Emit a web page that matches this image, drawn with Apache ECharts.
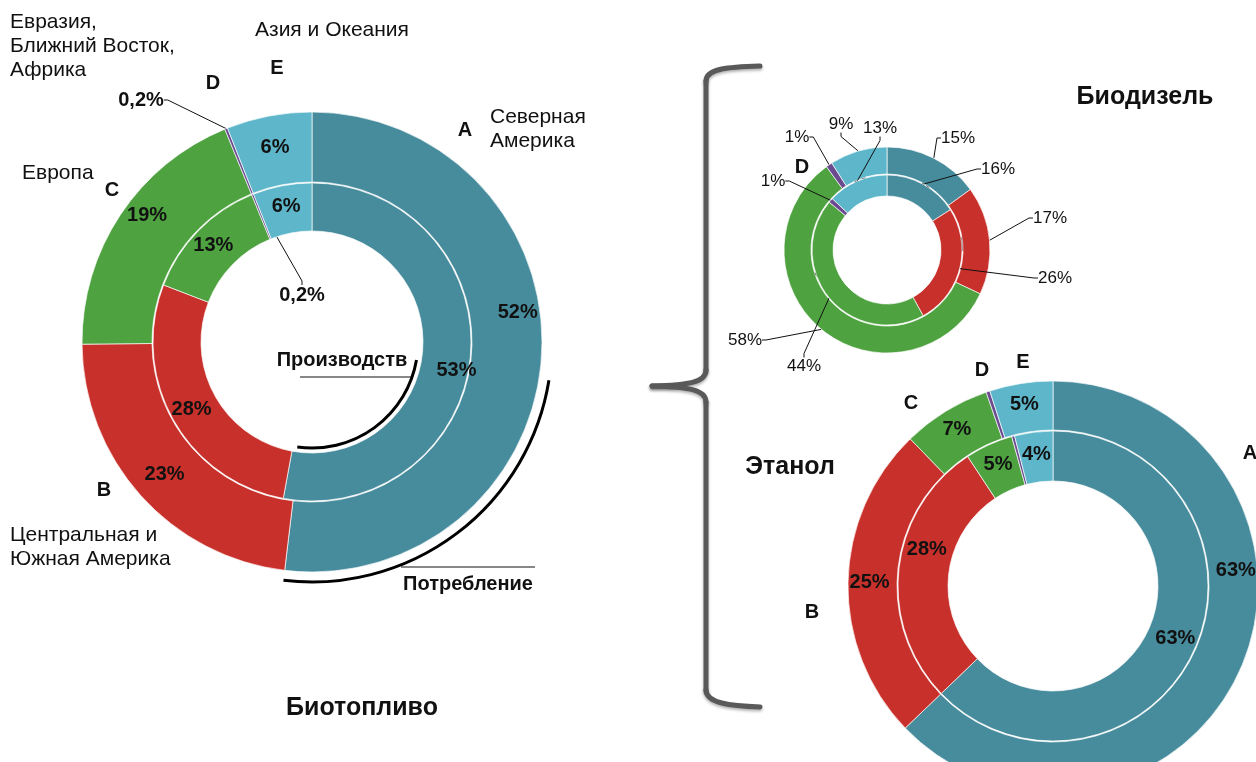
<!DOCTYPE html>
<html>
<head>
<meta charset="utf-8">
<script src="https://cdn.jsdelivr.net/npm/echarts@6/dist/echarts.min.js"></script>
<style>
  html, body { margin: 0; background: #fff; }
  #chart { width: 1256px; height: 762px; }
</style>
</head>
<body>
<div id="chart"></div>
<script>
// регионы
const regions = ['A', 'B', 'C', 'D', 'E'];
const regionNames = ['Северная\nАмерика', 'Центральная и\nЮжная Америка', 'Европа',
  'Евразия,\nБлижний Восток,\nАфрика', 'Азия и Океания'];

// доли, %
const biofuelProduction = [53, 28, 13, 0.2, 6];
const biofuelConsumption = [52, 23, 19, 0.2, 6];
const biodieselProduction = [16, 26, 44, 1, 13];
const biodieselConsumption = [15, 17, 58, 1, 9];
const ethanolProduction = [63, 28, 5, 0.3, 4];
const ethanolConsumption = [63, 25, 7, 0.3, 5];

const colors = ['#478c9c', '#c8312b', '#4ea240', '#6b4a8f', '#5db6c9'];
const FONT = '"Liberation Sans", Arial, sans-serif';

// центры колец
const fuelC = [312, 342];
const dieselC = [887, 250];
const ethC = [1053, 586];

const pct = v => String(v).replace('.', ',') + '%';

// сдвиг или точное место подписи по индексу
function placeLabels(spots) {
  return function (p) {
    const s = spots[p.dataIndex];
    if (!s) return {};
    if (s.shift) {
      const r = p.labelRect;
      return {x: r.x + r.width / 2 + s.shift[0], y: r.y + r.height / 2 + s.shift[1],
        align: 'center', verticalAlign: 'middle'};
    }
    return {x: s.at[0], y: s.at[1], align: 'center', verticalAlign: 'middle'};
  };
}

function ring(values, center, radius, o) {
  return {
    type: 'pie',
    center: center,
    radius: radius,
    startAngle: 90,
    clockwise: true,
    avoidLabelOverlap: false,
    silent: true,
    z: o.z || 2,
    itemStyle: {borderColor: 'rgba(255,255,255,0.85)', borderWidth: 0.8},
    label: {
      show: true,
      position: o.outside ? 'outside' : 'inside',
      color: '#111',
      fontFamily: FONT,
      fontSize: o.fontSize || 20,
      fontWeight: o.bold === false ? 'normal' : 'bold',
      formatter: p => pct(p.value)
    },
    labelLine: {show: !!o.outside, length: 8, length2: 4, lineStyle: {color: '#111', width: 1}},
    labelLayout: placeLabels(o.spots || {}),
    data: values.map((v, i) => {
      const item = {name: regions[i], value: v, itemStyle: {color: colors[i]}};
      if (o.outItems && o.outItems.indexOf(i) >= 0) {
        item.label = {position: 'outside'};
        item.labelLine = {show: true, length: 8, length2: 4};
      }
      if (o.hide && o.hide.indexOf(i) >= 0) item.label = {show: false};
      return item;
    })
  };
}

function txt(text, x, y, size, bold, align, extra) {
  return {
    type: 'text', x: x, y: y, silent: true,
    style: Object.assign({
      text: text, fill: '#111',
      font: (bold ? 'bold ' : '') + size + 'px ' + FONT,
      textAlign: align || 'center', textVerticalAlign: 'middle'
    }, extra || {})
  };
}

const letterSpots = {
  fuel: [[465, 130], [104, 490], [112, 190], [213, 83], [277, 68]],
  diesel: [[925, 188], [966, 245], [812, 280], [802, 167], [860, 185]],
  eth: [[1250, 453], [812, 612], [911, 403], [982, 370], [1023, 362]]
};
const nameSpots = [[490, 105], [10, 523], [22, 161], [10, 10], [255, 18]];

const graphics = [];
['fuel', 'diesel', 'eth'].forEach(k => {
  letterSpots[k].forEach((p, i) => graphics.push(txt(regions[i], p[0], p[1], 20, true)));
});
regionNames.forEach((n, i) => {
  graphics.push(txt(n, nameSpots[i][0], nameSpots[i][1], 21, false, 'left',
    {textVerticalAlign: 'top', lineHeight: 24}));
});

// фигурная скобка
const braceStyle = {stroke: '#595959', lineWidth: 5, fill: null, lineCap: 'round',
  shadowBlur: 3, shadowColor: 'rgba(0,0,0,0.3)', shadowOffsetY: 2};
const braceParts = [
  {type: 'bezierCurve', shape: {x1: 760, y1: 66, cpx1: 730, cpy1: 67, cpx2: 706, cpy2: 68, x2: 706, y2: 81}},
  {type: 'line', shape: {x1: 706, y1: 81, x2: 706, y2: 370}},
  {type: 'bezierCurve', shape: {x1: 706, y1: 370, cpx1: 706, cpy1: 382, cpx2: 690, cpy2: 385, x2: 652, y2: 386}},
  {type: 'bezierCurve', shape: {x1: 652, y1: 386, cpx1: 690, cpy1: 387, cpx2: 706, cpy2: 390, x2: 706, y2: 402}},
  {type: 'line', shape: {x1: 706, y1: 402, x2: 706, y2: 690}},
  {type: 'bezierCurve', shape: {x1: 706, y1: 690, cpx1: 706, cpy1: 703, cpx2: 730, cpy2: 706, x2: 760, y2: 707}}
];
braceParts.forEach(b => { b.silent = true; b.style = braceStyle; graphics.push(b); });

graphics.push(
  txt('Биотопливо', 362, 708, 25, true),
  txt('Биодизель', 1145, 97, 25, true),
  txt('Этанол', 790, 467, 25, true),
  txt('Производств', 342, 360, 20, true),
  txt('Потребление', 468, 584, 20, true),
  {type: 'line', silent: true, shape: {x1: 300, y1: 377, x2: 412, y2: 377}, style: {stroke: '#111', lineWidth: 1}},
  {type: 'line', silent: true, shape: {x1: 401, y1: 567, x2: 535, y2: 567}, style: {stroke: '#111', lineWidth: 1}},
  {type: 'arc', silent: true, shape: {cx: fuelC[0], cy: fuelC[1], r: 106, startAngle: 0.17, endAngle: 1.71, clockwise: true},
    style: {stroke: '#000', lineWidth: 3, fill: null}},
  {type: 'arc', silent: true, shape: {cx: fuelC[0], cy: fuelC[1], r: 240, startAngle: 0.16, endAngle: 1.69, clockwise: true},
    style: {stroke: '#000', lineWidth: 3, fill: null}}
);

const chart = echarts.init(document.getElementById('chart'), null, {renderer: 'canvas'});
chart.setOption({
  backgroundColor: '#fff',
  animation: false,
  graphic: {elements: graphics},
  series: [
    // Биотопливо
    ring(biofuelProduction, fuelC, [111, 159], {
      z: 3, outItems: [3],
      spots: {0: {shift: [7, 16]}, 3: {at: [302, 295]}}
    }),
    ring(biofuelConsumption, fuelC, [160, 230], {
      outItems: [3],
      spots: {0: {shift: [8, -41]}, 2: {shift: [0, -17]}, 3: {at: [141, 100]}}
    }),
    // Биодизель
    ring(biodieselProduction, dieselC, [54, 75], {
      z: 3, outside: true, bold: false, fontSize: 17,
      spots: {0: {at: [998, 169]}, 1: {at: [1055, 278]}, 2: {at: [804, 366]}, 3: {at: [773, 181]}, 4: {at: [880, 128]}}
    }),
    ring(biodieselConsumption, dieselC, [76, 103], {
      outside: true, bold: false, fontSize: 17,
      spots: {0: {at: [958, 138]}, 1: {at: [1050, 218]}, 2: {at: [745, 340]}, 3: {at: [797, 137]}, 4: {at: [841, 124]}}
    }),
    // Этанол
    ring(ethanolProduction, ethC, [105, 155], {
      hide: [3], spots: {1: {shift: [6, -22]}}
    }),
    ring(ethanolConsumption, ethC, [156, 205], {
      hide: [3], spots: {0: {shift: [14, -87]}}
    })
  ]
});
</script>
</body>
</html>
